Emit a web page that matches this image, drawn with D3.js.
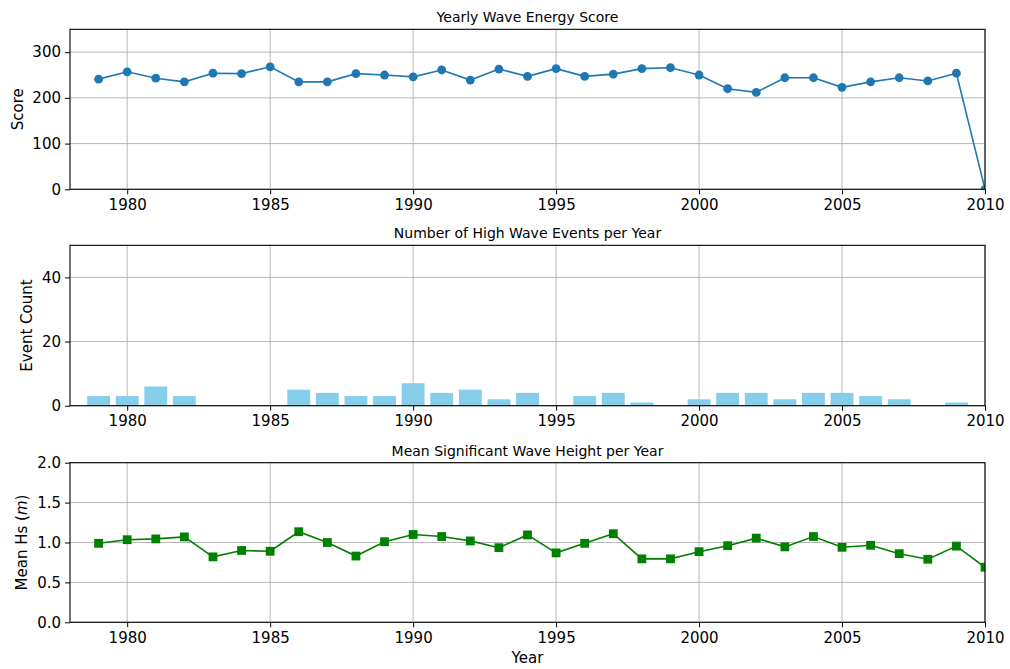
<!DOCTYPE html>
<html>
<head>
<meta charset="utf-8">
<script src="https://cdn.jsdelivr.net/npm/d3@7"></script>
<style>
  html, body { margin: 0; padding: 0; background: #fff; }
  svg { display: block; font-family: "DejaVu Sans", sans-serif; }
  .tick text { fill: #000; }
</style>
</head>
<body>
<svg id="chart" width="1010" height="669"></svg>
<script>
// Years covered by the record
const years = d3.range(1979, 2011);

// Yearly wave energy score (2010 is an incomplete year)
const energyScore = [241, 257, 243, 235, 254, 253, 268, 235, 235, 253, 250, 246, 261, 239, 263, 247,
                     264, 247, 252, 264, 266, 250, 220, 212, 244, 244, 223, 235, 244, 237, 254, 0];

// Number of high wave events per year (1979–2009)
const eventYears = d3.range(1979, 2010);
const eventCounts = [3, 3, 6, 3, 0, 0, 0, 5, 4, 3, 3, 7, 4, 5, 2, 4,
                     0, 3, 4, 1, 0, 2, 4, 4, 2, 4, 4, 3, 2, 0, 1];

// Mean significant wave height per year (m)
const meanHs = [0.99, 1.035, 1.045, 1.07, 0.82, 0.90, 0.89, 1.135, 1.0, 0.83, 1.01, 1.10, 1.075, 1.02, 0.935, 1.095,
                0.87, 0.99, 1.11, 0.795, 0.795, 0.885, 0.96, 1.055, 0.945, 1.075, 0.94, 0.965, 0.86, 0.79, 0.955, 0.69];

// Axis ticks
const xTicks = [1980, 1985, 1990, 1995, 2000, 2005, 2010];
const scoreTicks = [0, 100, 200, 300];
const countTicks = [0, 20, 40];
const hsTicks = [0.0, 0.5, 1.0, 1.5, 2.0];

const svg = d3.select("#chart");
const left = 70, right = 985;
const x = d3.scaleLinear().domain([1978, 2010]).range([left, right]);

const gridColor = "#b0b0b0";
const tickFont = 15;

function panel(top, bottom, yDomain, yTickVals, yFormat, title, yLabel, yLabelX, id) {
  const y = d3.scaleLinear().domain(yDomain).range([bottom, top]);
  const g = svg.append("g");

  // clip region for data marks
  svg.append("clipPath").attr("id", id)
    .append("rect").attr("x", left).attr("y", top)
    .attr("width", right - left).attr("height", bottom - top);

  // grid
  const grid = g.append("g");
  grid.selectAll("line.gx").data(xTicks).join("line")
    .attr("x1", d => x(d)).attr("x2", d => x(d))
    .attr("y1", top).attr("y2", bottom)
    .attr("stroke", gridColor).attr("stroke-width", 0.9);
  grid.selectAll("line.gy").data(yTickVals).join("line")
    .attr("x1", left).attr("x2", right)
    .attr("y1", d => y(d)).attr("y2", d => y(d))
    .attr("stroke", gridColor).attr("stroke-width", 0.9);

  const marks = g.append("g").attr("clip-path", `url(#${id})`);

  // axes
  const xAxis = g.append("g").attr("transform", `translate(0,${bottom})`)
    .call(d3.axisBottom(x).tickValues(xTicks).tickFormat(d3.format("d")).tickSize(5).tickPadding(5));
  const yAxis = g.append("g").attr("transform", `translate(${left},0)`)
    .call(d3.axisLeft(y).tickValues(yTickVals).tickFormat(yFormat).tickSize(5).tickPadding(4));
  [xAxis, yAxis].forEach(a => {
    a.select(".domain").remove();
    a.selectAll(".tick line").attr("stroke", "#000").attr("stroke-width", 1);
    a.selectAll(".tick text").attr("font-size", tickFont).attr("font-family", "DejaVu Sans");
  });

  // frame
  g.append("rect").attr("x", left).attr("y", top)
    .attr("width", right - left).attr("height", bottom - top)
    .attr("fill", "none").attr("stroke", "#000").attr("stroke-width", 1.1);

  g.append("text").attr("x", (left + right) / 2).attr("y", top - 7)
    .attr("text-anchor", "middle").attr("font-size", 14).text(title);

  const yl = g.append("text")
    .attr("transform", `translate(${yLabelX},${(top + bottom) / 2}) rotate(-90)`)
    .attr("text-anchor", "middle").attr("font-size", 15);
  if (Array.isArray(yLabel)) {
    yLabel.forEach(p => yl.append("tspan").attr("font-style", p.italic ? "italic" : null).text(p.t));
  } else {
    yl.text(yLabel);
  }
  return { y, marks };
}

// Panel 1: energy score
{
  const { y, marks } = panel(29.3, 189.3, [0, 350], scoreTicks, d3.format("d"),
    "Yearly Wave Energy Score", "Score", 23, "clip1");
  const pts = years.map((yr, i) => [yr, energyScore[i]]);
  marks.append("path").datum(pts)
    .attr("fill", "none").attr("stroke", "#1f77b4").attr("stroke-width", 1.6)
    .attr("d", d3.line().x(d => x(d[0])).y(d => y(d[1])));
  marks.selectAll("circle").data(pts).join("circle")
    .attr("cx", d => x(d[0])).attr("cy", d => y(d[1])).attr("r", 4.4)
    .attr("fill", "#1f77b4");
}

// Panel 2: high wave events
{
  const { y, marks } = panel(245.3, 405.7, [0, 50], countTicks, d3.format("d"),
    "Number of High Wave Events per Year", "Event Count", 32, "clip2");
  const bw = x(1.8) - x(1);
  marks.selectAll("rect").data(eventYears.map((yr, i) => [yr, eventCounts[i]])).join("rect")
    .attr("x", d => x(d[0]) - bw / 2).attr("width", bw)
    .attr("y", d => y(d[1])).attr("height", d => y(0) - y(d[1]))
    .attr("fill", "#87ceeb");
}

// Panel 3: mean significant wave height
{
  const { y, marks } = panel(462.7, 622.3, [0, 2], hsTicks, d3.format(".1f"),
    "Mean Significant Wave Height per Year",
    [{ t: "Mean Hs (" }, { t: "m", italic: true }, { t: ")" }], 27, "clip3");
  const pts = years.map((yr, i) => [yr, meanHs[i]]);
  marks.append("path").datum(pts)
    .attr("fill", "none").attr("stroke", "#008000").attr("stroke-width", 1.6)
    .attr("d", d3.line().x(d => x(d[0])).y(d => y(d[1])));
  const s = 8.8;
  marks.selectAll("rect").data(pts).join("rect")
    .attr("x", d => x(d[0]) - s / 2).attr("y", d => y(d[1]) - s / 2)
    .attr("width", s).attr("height", s).attr("fill", "#008000");

  svg.append("text").attr("x", (left + right) / 2).attr("y", 663)
    .attr("text-anchor", "middle").attr("font-size", 15).text("Year");
}
</script>
</body>
</html>
